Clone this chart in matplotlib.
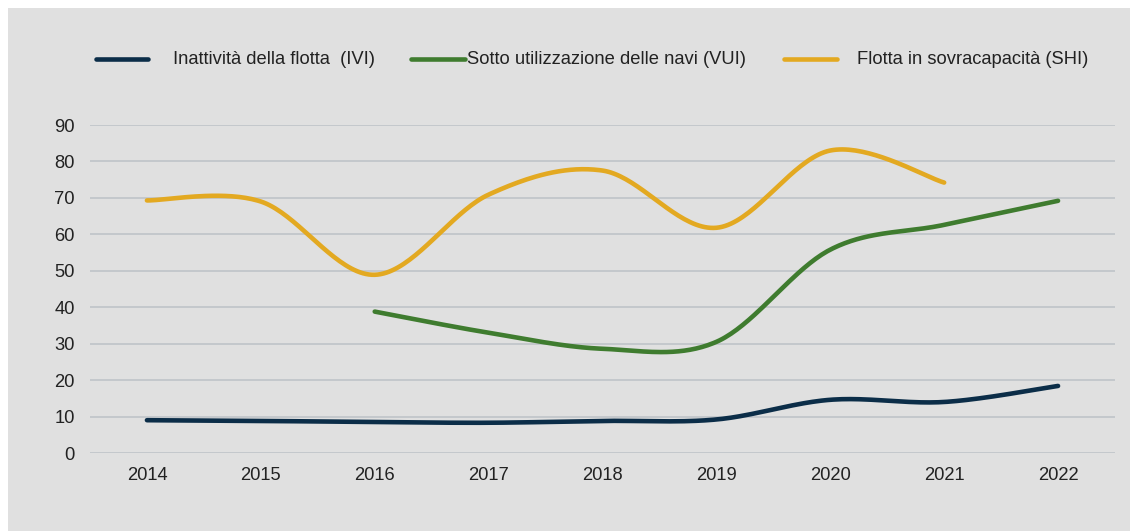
import matplotlib.pyplot as plt
import numpy as np
from matplotlib.lines import Line2D
from matplotlib.patches import Rectangle

plt.rcParams['font.family'] = ['Liberation Sans', 'DejaVu Sans']

years = ['2014', '2015', '2016', '2017', '2018', '2019', '2020', '2021', '2022']
ivi = [9.0, 8.8, 8.5, 8.3, 8.8, 9.2, 14.6, 14.0, 18.4]
vui = [None, None, 38.8, 33.0, 28.6, 30.5, 55.8, 62.6, 69.2]
shi = [69.3, 69.0, 48.9, 70.9, 77.5, 61.8, 83.0, 74.2, None]

labels = ['Inattività della flotta  (IVI)', 'Sotto utilizzazione delle navi (VUI)',
          'Flotta in sovracapacità (SHI)']
colors = ['#0b2d48', '#3f7c2f', '#e3a921']

BG = '#e0e0e0'
GRID = '#c2c6ca'
TXT = '#222222'


def smooth(xs, ys, n=40):
    # bezier smoothing through every point, like a spreadsheet "smoothed line"
    pts = np.column_stack([xs, ys]).astype(float)
    out = []
    for i in range(len(pts) - 1):
        p0 = pts[max(i - 1, 0)]
        p1 = pts[i]
        p2 = pts[i + 1]
        p3 = pts[min(i + 2, len(pts) - 1)]
        c1 = p1 + (p2 - p0) / 6
        c2 = p2 - (p3 - p1) / 6
        t = np.linspace(0, 1, n)[:, None]
        seg = ((1 - t) ** 3 * p1 + 3 * (1 - t) ** 2 * t * c1
               + 3 * (1 - t) * t ** 2 * c2 + t ** 3 * p2)
        out.append(seg if i == 0 else seg[1:])
    out = np.vstack(out)
    return out[:, 0], out[:, 1]


fig = plt.figure(figsize=(11.3, 5.31), dpi=100)
fig.patch.set_facecolor('white')
fig.add_artist(Rectangle((8 / 1130, 0), 1, 1 - 8 / 531, transform=fig.transFigure,
                         facecolor=BG, edgecolor='none', zorder=0))

ax = fig.add_axes([90 / 1130, 1 - 453 / 531, (1115 - 90) / 1130, (453 - 125) / 531])
ax.set_facecolor('none')

for vals, col in zip([ivi, vui, shi], colors):
    idx = [i for i, v in enumerate(vals) if v is not None]
    xs, ys = smooth(idx, [vals[i] for i in idx])
    ax.plot(xs, ys, color=col, lw=3.3, solid_capstyle='round', clip_on=False, zorder=3)

ax.set_xlim(-0.5, len(years) - 0.5)
ax.set_ylim(0, 90)
ax.set_yticks(range(0, 91, 10))
ax.set_xticks(range(len(years)))
ax.set_xticklabels(years)
ax.yaxis.grid(True, color=GRID, lw=1.3)
ax.set_axisbelow(True)
for s in ax.spines.values():
    s.set_visible(False)
ax.tick_params(length=0, labelsize=13.2, colors=TXT)
ax.tick_params(axis='y', pad=11)
ax.tick_params(axis='x', pad=10)

# legend row
ly = 1 - 59 / 531
handles = [(96, 148, 173), (411, 465, 467), (784, 837, 857)]
for (x0, x1, tx), col, lab in zip(handles, colors, labels):
    fig.add_artist(Line2D([x0 / 1130, x1 / 1130], [ly, ly], transform=fig.transFigure,
                          color=col, lw=3.3, solid_capstyle='round'))
    fig.text(tx / 1130, ly, lab, fontsize=13.2, color=TXT, va='center', ha='left')

fig.savefig('out.png', dpi=100, facecolor=fig.get_facecolor())
